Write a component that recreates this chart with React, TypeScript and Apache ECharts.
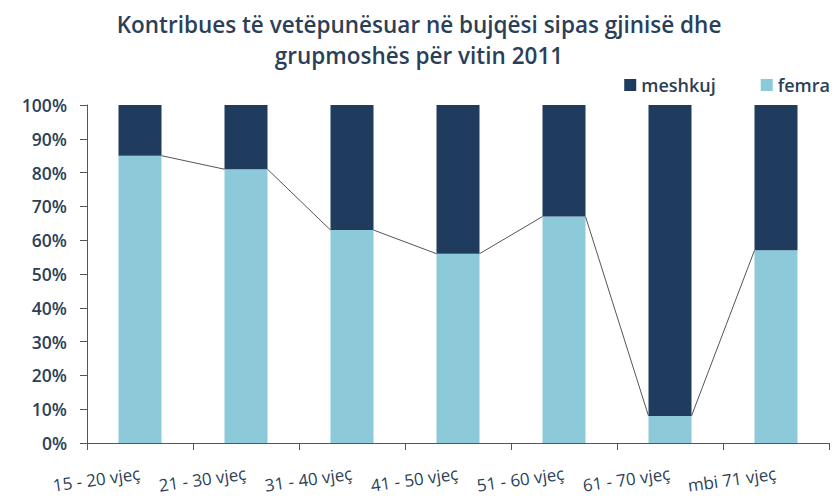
import React, { useEffect, useRef } from "react";
import * as echarts from "echarts";

const categories = ["15 - 20 vjeç", "21 - 30 vjeç", "31 - 40 vjeç", "41 - 50 vjeç", "51 - 60 vjeç", "61 - 70 vjeç", "mbi 71 vjeç"];
const femra = [85, 81, 63, 56, 67, 8, 57];
const meshkuj = [15, 19, 37, 44, 33, 92, 43];
const titleText = "Kontribues të vetëpunësuar në bujqësi sipas gjinisë dhe\ngrupmoshës për vitin 2011";

const DARK = "#1f3b5e";
const LIGHT = "#8ccad9";
const TEXT = "#2c3f58";
const BAR_W = 43;

export default function App() {
  const ref = useRef<HTMLDivElement>(null);
  useEffect(() => {
    if (!ref.current) return;
    const chart = echarts.init(ref.current, null, { renderer: "svg" });
    const connectors = femra.slice(0, -1).map((v, i) => [i, v, femra[i + 1]]);
    chart.setOption({
      animation: false,
      backgroundColor: "#ffffff",
      title: {
        text: titleText,
        left: "center",
        top: 4,
        textStyle: {
          fontFamily: "Open Sans",
          fontSize: 22.5,
          fontWeight: 600,
          color: TEXT,
          lineHeight: 31,
        },
      },
      legend: {
        right: 3,
        top: 71,
        itemWidth: 12,
        itemHeight: 12,
        itemGap: 45,
        icon: "rect",
        data: ["meshkuj", "femra"],
        textStyle: { fontFamily: "Open Sans", fontSize: 18, fontWeight: 600, color: TEXT },
      },
      grid: { left: 87, right: 9, top: 105, bottom: 58, containLabel: false },
      xAxis: {
        type: "category",
        data: categories,
        boundaryGap: true,
        axisLine: { lineStyle: { color: "#555", width: 1 } },
        axisTick: { show: true, length: 7, lineStyle: { color: "#555" } },
        axisLabel: {
          interval: 0,
          rotate: 8,
          margin: 30,
          fontFamily: "Open Sans",
          fontSize: 17,
          color: TEXT,
        },
      },
      yAxis: {
        type: "value",
        min: 0,
        max: 100,
        interval: 10,
        splitLine: { show: false },
        axisLine: { show: true, lineStyle: { color: "#555", width: 1 } },
        axisTick: { show: true, length: 7, lineStyle: { color: "#555" } },
        axisLabel: {
          formatter: "{value}%",
          margin: 20,
          fontFamily: "Open Sans",
          fontSize: 17.5,
          fontWeight: 600,
          color: TEXT,
        },
      },
      series: [
        {
          name: "femra",
          type: "bar",
          stack: "total",
          barWidth: BAR_W,
          data: femra,
          itemStyle: { color: LIGHT },
        },
        {
          name: "meshkuj",
          type: "bar",
          stack: "total",
          barWidth: BAR_W,
          data: meshkuj,
          itemStyle: { color: DARK },
        },
        {
          name: "connector",
          type: "custom",
          silent: true,
          z: 5,
          data: connectors,
          renderItem: (params: any, api: any) => {
            const i = api.value(0);
            const p0 = api.coord([i, api.value(1)]);
            const p1 = api.coord([i + 1, api.value(2)]);
            return {
              type: "line",
              shape: { x1: p0[0] + BAR_W / 2, y1: p0[1], x2: p1[0] - BAR_W / 2, y2: p1[1] },
              style: { stroke: "#555", lineWidth: 1 },
            };
          },
        },
      ],
    });
    return () => chart.dispose();
  }, []);
  return <div ref={ref} style={{ width: 838, height: 501, position: "absolute", left: 0, top: 0 }} />;
}
